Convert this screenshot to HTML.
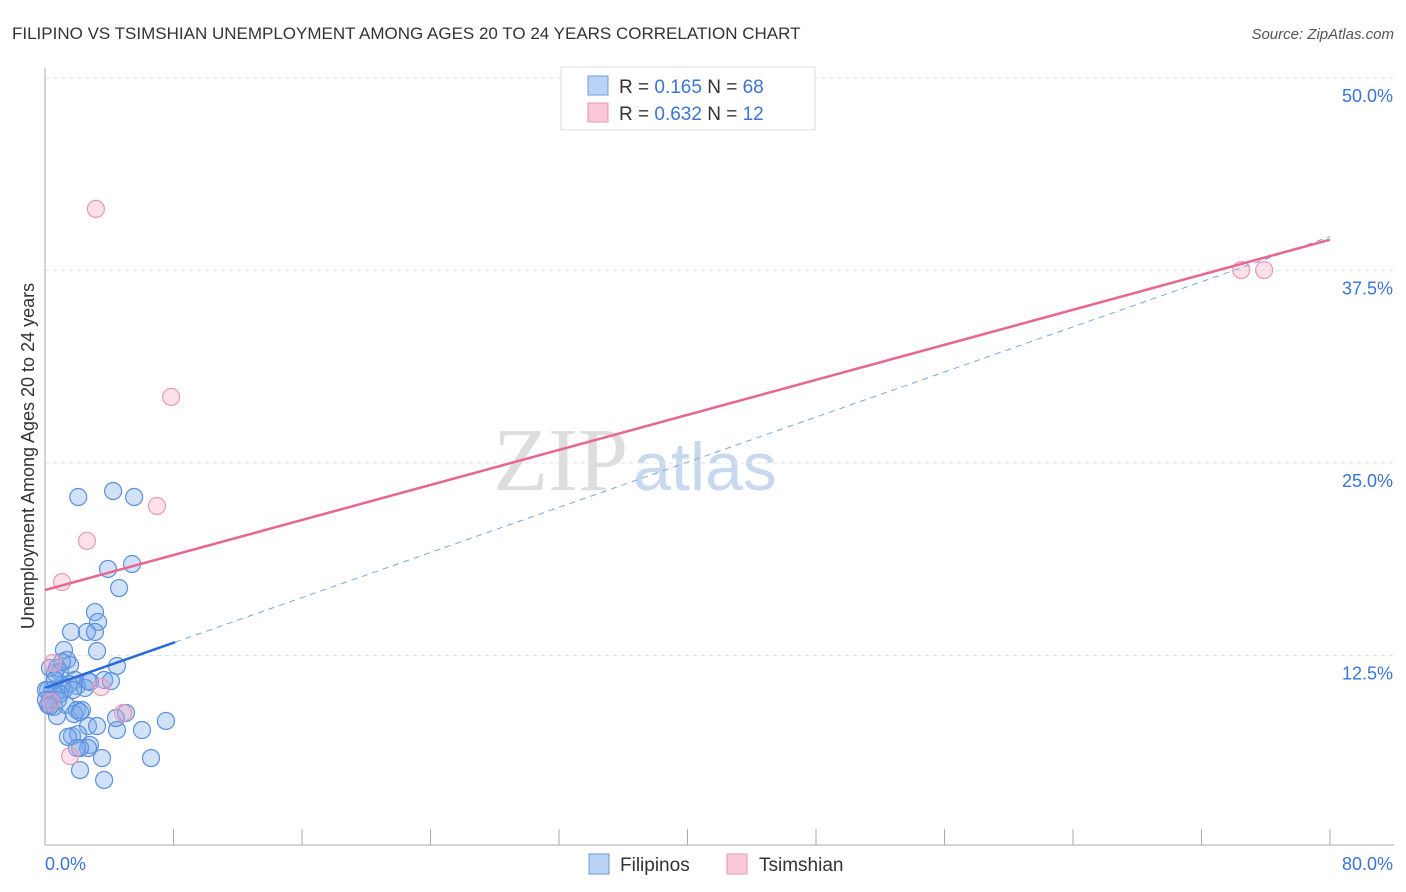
<!DOCTYPE html>
<html><head><meta charset="utf-8"><style>
body{margin:0;background:#fff;font-family:"Liberation Sans",sans-serif}
svg{display:block}
</style></head><body>
<svg id="c" width="1406" height="892" xmlns="http://www.w3.org/2000/svg">
<text x="12" y="39" font-size="17" fill="#333">FILIPINO VS TSIMSHIAN UNEMPLOYMENT AMONG AGES 20 TO 24 YEARS CORRELATION CHART</text>
<text x="1394" y="39" font-size="15" fill="#555" font-style="italic" text-anchor="end">Source: ZipAtlas.com</text>
<text x="635" y="490" font-size="90" fill="#ddd" text-anchor="middle" font-family="Liberation Serif,serif">ZIP<tspan fill="#c8d8ef" font-family="Liberation Sans,sans-serif" font-size="68" dx="5">atlas</tspan></text>
<g id="grid"></g>
<g id="axes"></g>
<g id="pts"></g>
<g id="lines"></g>
<text transform="translate(34,456) rotate(-90)" font-size="18" fill="#333" text-anchor="middle">Unemployment Among Ages 20 to 24 years</text>
<g>
<rect x="561" y="67" width="254" height="63" fill="#fff" stroke="#ddd"/>
<rect x="588" y="76" width="20" height="19" fill="#b9d3f5" stroke="#6a9be0"/>
<rect x="588" y="103" width="20" height="19" fill="#f9c9d8" stroke="#e897b1"/>
<text x="619" y="93" font-size="19" fill="#333">R = <tspan fill="#3a74d6">0.165</tspan>   N = <tspan fill="#3a74d6">68</tspan></text>
<text x="619" y="120" font-size="19" fill="#333">R = <tspan fill="#3a74d6">0.632</tspan>   N = <tspan fill="#3a74d6"> 12</tspan></text>
</g>
<g>
<rect x="589" y="854" width="20" height="20" fill="#b9d3f5" stroke="#6a9be0"/>
<text x="620" y="871" font-size="19" fill="#333">Filipinos</text>
<rect x="727" y="854" width="20" height="20" fill="#f9c9d8" stroke="#e897b1"/>
<text x="759" y="871" font-size="19" fill="#333">Tsimshian</text>
</g>
</svg>
<script>
const yTicks=[12.5,25,37.5,50];
const yTickLabels=["12.5%","25.0%","37.5%","50.0%"];
const xTicks=[0,8,16,24,32,40,48,56,64,72,80];
const filX=[2.07,4.24,5.55,5.42,3.92,4.61,3.11,3.3,1.62,2.61,3.11,1.18,3.24,1.37,1.56,4.48,0.31,0.75,0.93,1.87,2.68,3.68,4.11,1.06,0.44,0.19,1.99,1.18,2.49,0.62,0.31,0.81,0.19,0.56,1.31,1.99,2.3,0.75,1.81,2.68,3.24,4.48,6.04,7.53,5.04,4.42,1.68,2.06,1.43,2.8,2.68,2.18,1.99,3.55,6.6,2.18,3.68,0.06,0.06,0.62,1.49,1.06,2.18,2.8,1.74,0.62,0.31,0.93];
const filY=[22.79,23.18,22.79,18.44,18.12,16.88,15.32,14.68,14.03,14.03,14.03,12.86,12.79,12.21,11.88,11.82,11.69,11.69,11.43,10.91,10.84,10.91,10.84,10.58,10.26,10.26,10.52,10.26,10.39,9.94,9.61,9.61,9.29,9.16,9.29,8.96,8.96,8.57,8.7,7.92,7.92,7.66,7.66,8.25,8.77,8.44,7.27,7.4,7.21,6.69,6.49,6.49,6.49,5.84,5.84,5.06,4.42,10.26,9.61,11.36,10.65,12.08,8.83,10.78,10.26,10.91,9.22,10.0];
const tsiX=[3.17,7.85,6.97,2.61,1.06,0.5,3.49,4.86,1.56,0.37,74.47,75.9];
const tsiY=[41.5,29.29,22.21,19.94,17.27,12.01,10.45,8.77,5.97,9.48,37.53,37.53];
const pinkLine=[16.75,39.5];
const blueLine=[10.4,39.7];
const blueSolidEnd=8.1;
const NS="http://www.w3.org/2000/svg";
const X=v=>45+v*16.0625, Y=v=>848-v*15.4;
function mk(t,a,p){const e=document.createElementNS(NS,t);for(const k in a)e.setAttribute(k,a[k]);document.getElementById(p).appendChild(e);return e;}
yTicks.forEach((t,i)=>{
 const l=mk('line',{x1:45,x2:1394,y1:Y(t),y2:Y(t),stroke:'#e2e2e2','stroke-dasharray':'4,4'},'grid');
 
 
 const tx=mk('text',{x:1393,y:Y(t)+24,'font-size':18,fill:'#3a74d6','text-anchor':'end'},'grid');
 tx.textContent=yTickLabels[i];
 
 
});
let ax=mk('line',{x1:45,x2:45,y1:68,y2:845,stroke:'#aaa'},'axes');


ax=mk('line',{x1:45,x2:1394,y1:845,y2:845,stroke:'#aaa'},'axes');


xTicks.forEach(t=>{const l=mk('line',{x1:X(t),x2:X(t),y1:829,y2:845,stroke:'#aaa'},'axes');
 
 });
let t0=mk('text',{x:45,y:870,'font-size':18,fill:'#3a74d6'},'axes');t0.textContent='0.0%';


t0=mk('text',{x:1393,y:870,'font-size':18,fill:'#3a74d6','text-anchor':'end'},'axes');t0.textContent='80.0%';


filX.forEach((x,i)=>{const c=mk('circle',{cx:X(x),cy:Y(filY[i]),r:8.5,fill:'rgba(120,170,235,0.35)',stroke:'#5b8fdc','stroke-width':1.2},'pts');
 
 });
tsiX.forEach((x,i)=>{const c=mk('circle',{cx:X(x),cy:Y(tsiY[i]),r:8.5,fill:'rgba(245,170,195,0.35)',stroke:'#e99ab5','stroke-width':1.2},'pts');
 
 });
const by=x=>blueLine[0]+(blueLine[1]-blueLine[0])*x/80;
let l=mk('line',{x1:X(blueSolidEnd),y1:Y(by(blueSolidEnd)),x2:X(80),y2:Y(by(80)),stroke:'#7aa6e6','stroke-width':1,'stroke-dasharray':'6,5'},'lines');


l=mk('line',{x1:X(0),y1:Y(by(0)),x2:X(blueSolidEnd),y2:Y(by(blueSolidEnd)),stroke:'#2a6ad8','stroke-width':2.5},'lines');


l=mk('line',{x1:X(0),y1:Y(pinkLine[0]),x2:X(80),y2:Y(pinkLine[1]),stroke:'#e8668f','stroke-width':2.5},'lines');


</script>
</body></html>
